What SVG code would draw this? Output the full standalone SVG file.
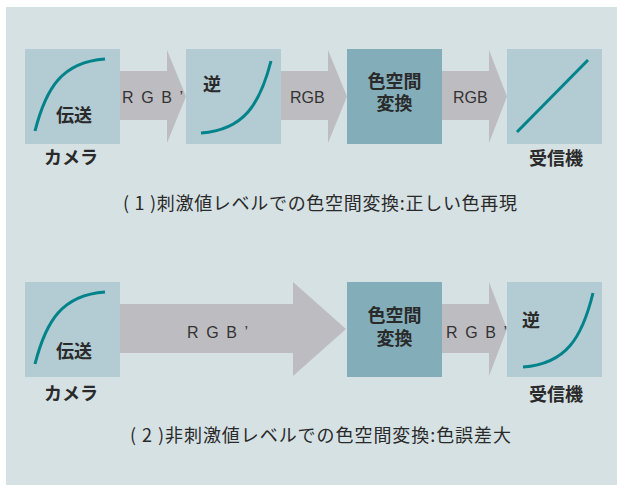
<svg xmlns="http://www.w3.org/2000/svg" width="617" height="485" viewBox="0 0 617 485">
<defs>
<style>
.bg{fill:#d6e1e4}
.box{fill:#b3cbd3}
.dark{fill:#82adb9}
.arrow{fill:#bdbdc1}
.curve{fill:none;stroke:#00838a;stroke-width:3;stroke-linecap:butt}
.lbl{font-family:"Noto Sans CJK JP","Noto Sans",sans-serif;font-weight:bold;font-size:18px;fill:#2a2a2a;text-anchor:middle}
.rgb{font-family:"Liberation Sans",Arial,sans-serif;font-size:16px;fill:#333;letter-spacing:1.6px}
.rgb2{font-family:"Liberation Sans",Arial,sans-serif;font-size:16px;fill:#333}
.cap{font-family:"Noto Sans CJK JP","Noto Sans",sans-serif;font-size:18px;fill:#2a2a2a}
</style>
</defs>
<rect class="bg" x="6" y="7" width="611" height="478"/>

<g id="connectors">
<polygon class="arrow" points="120,71 167,71 167,50 186,96.5 167,143 167,120 120,120"/>
<polygon class="arrow" points="281,71 328,71 328,50 347,96.5 328,143 328,120 281,120"/>
<polygon class="arrow" points="442,71 489,71 489,50 507,96.5 489,143 489,120 442,120"/>
<polygon class="arrow" points="120,304 293,304 293,282 346,329 293,376 293,353 120,353"/>
<polygon class="arrow" points="442,304 489,304 489,282 507,329 489,376 489,353 442,353"/>
<text class="rgb" x="122" y="103">R G B ’</text>
<text class="rgb2" x="290" y="103">RGB</text>
<text class="rgb2" x="453" y="103">RGB</text>
<text class="rgb" x="187" y="338">R G B ’</text>
<text class="rgb" x="446" y="338">R G B ’</text>
</g>

<g id="camera1">
<rect class="box" x="25" y="49" width="95" height="95"/>
<path class="curve" d="M35,131 C46,88 62,62 105,59"/>
<text class="lbl" x="74" y="122">伝送</text>
<text class="lbl" x="71" y="164">カメラ</text>
</g>
<g id="inverse1">
<rect class="box" x="186" y="49" width="95" height="95"/>
<path class="curve" d="M201,133 C244,130 260,104 271,61"/>
<text class="lbl" x="212" y="91">逆</text>
</g>
<g id="csc1">
<rect class="dark" x="347" y="49" width="95" height="95"/>
<text class="lbl" x="394.5" y="88">色空間<tspan x="394.5" dy="22">変換</tspan></text>
</g>
<g id="receiver1">
<rect class="box" x="507" y="49" width="95" height="95"/>
<line class="curve" x1="517" y1="132" x2="588" y2="60"/>
<text class="lbl" x="556" y="165">受信機</text>
</g>
<text class="cap" x="123" y="210" textLength="394" lengthAdjust="spacing">( 1 )刺激値レベルでの色空間変換:正しい色再現</text>

<g id="camera2">
<rect class="box" x="25" y="282" width="95" height="95"/>
<path class="curve" d="M35,364 C46,321 62,295 105,292"/>
<text class="lbl" x="74" y="358">伝送</text>
<text class="lbl" x="71" y="400">カメラ</text>
</g>
<g id="csc2">
<rect class="dark" x="347" y="282" width="95" height="95"/>
<text class="lbl" x="394.5" y="322">色空間<tspan x="394.5" dy="23">変換</tspan></text>
</g>
<g id="receiver2">
<rect class="box" x="507" y="282" width="95" height="95"/>
<path class="curve" d="M523,367 C566,364 582,338 593,293"/>
<text class="lbl" x="531" y="327">逆</text>
<text class="lbl" x="556" y="401">受信機</text>
</g>
<text class="cap" x="130" y="442" textLength="381" lengthAdjust="spacing">( 2 )非刺激値レベルでの色空間変換:色誤差大</text>
</svg>
